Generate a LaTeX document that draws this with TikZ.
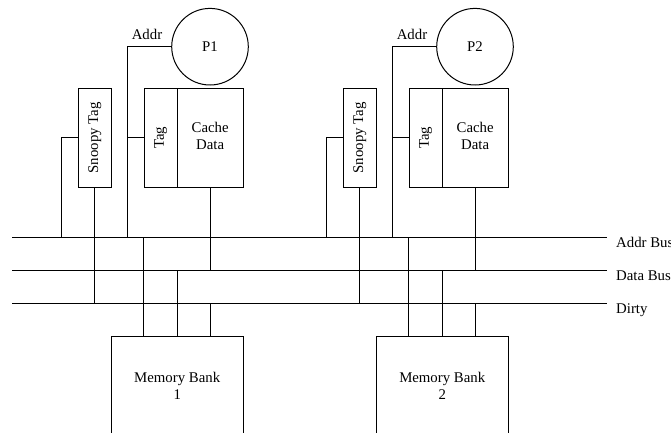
\documentclass[tikz,border=0pt]{standalone}
\usepackage{fontspec}
\setmainfont{Liberation Serif}
\begin{document}
\begin{tikzpicture}[x=1pt,y=-1pt,line width=1pt,
  every node/.style={font=\fontsize{14.8}{16.5}\selectfont},
  box/.style={draw,rectangle,inner sep=0pt,minimum width=#1,minimum height=99pt},
  proc/.style={draw,circle,inner sep=0pt,minimum size=76.6pt},
  membox/.style={draw,rectangle,inner sep=0pt,align=center,minimum width=132.3pt,minimum height=100pt},
  buslabel/.style={anchor=base west,inner sep=0pt}]
\useasboundingbox (0,0) rectangle (671,433);

% the three shared buses
\coordinate (aL) at (12,237);    \coordinate (aR) at (606.7,237);
\coordinate (dL) at (12,270.3);  \coordinate (dR) at (606.7,270.3);
\coordinate (yL) at (12,303.3);  \coordinate (yR) at (606.7,303.3);
\draw (aL) -- (aR);
\draw (dL) -- (dR);
\draw (yL) -- (yR);
\node[buslabel] (lblA) at (615.7,247) {Addr Bus};
\node[buslabel] (lblD) at (615.7,280) {Data Bus};
\node[buslabel] (lblY) at (615.7,313) {Dirty};

% one processor node per pass
\foreach \i/\dx in {1/0,2/265}{
  \begin{scope}[xshift=\dx pt]
    \node[proc] (p\i) at (210,46.7) {P\i};
    \node (addr\i) at (147,34.7) {Addr};
    \node[box=32.7pt] (snoop\i) at (94.7,137.8) {\rotatebox{90}{Snoopy Tag}};
    \node[box=32.7pt] (tag\i) at (160.65,137.8) {\rotatebox{90}{Tag}};
    \node[box=66.3pt] (cache\i) at (210.15,137.8)
      {\raisebox{3.8pt}{\begin{tabular}{@{}c@{}}Cache\\Data\end{tabular}}};
    \node[membox] (mem\i) at (177.2,386) {Memory Bank\\\i};
    \coordinate (ac\i) at (127.7,46.7);
    \coordinate (sc\i) at (61.7,137.8);
  \end{scope}
  % address path from the processor to the bus and the cache tag
  \draw (p\i.west) -- (ac\i) -- (ac\i |- aL);
  \draw (ac\i |- tag\i.west) -- (tag\i.west);
  % snoopy tag watches the address bus and drives the dirty line
  \draw (snoop\i.west) -- (sc\i) -- (sc\i |- aL);
  \draw (snoop\i.south) -- (snoop\i.south |- yL);
  % cache data to the data bus
  \draw (cache\i.south) -- (cache\i.south |- dL);
  % memory bank taps on all three buses
  \draw (tag\i.south west |- aL) -- (tag\i.south west |- mem\i.north);
  \draw (tag\i.south east |- dL) -- (tag\i.south east |- mem\i.north);
  \draw (cache\i.south |- yL) -- (cache\i.south |- mem\i.north);
}
\end{tikzpicture}
\end{document}
